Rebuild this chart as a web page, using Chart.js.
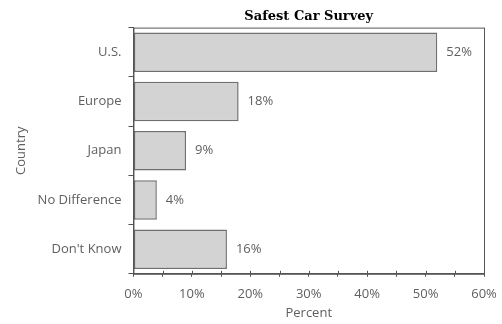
<!DOCTYPE html>
<html>
<head>
<meta charset="utf-8">
<script src="https://cdn.jsdelivr.net/npm/chart.js@4/dist/chart.umd.min.js"></script>
<style>
  html, body { margin: 0; padding: 0; background: #fff; }
  #wrap { width: 502px; height: 324px; }
</style>
</head>
<body>
<div id="wrap"><canvas id="surveyChart" width="502" height="324"></canvas></div>
<script>
// Données du sondage
const countries = ['U.S.', 'Europe', 'Japan', 'No Difference', "Don't Know"];
const percents = [52, 18, 9, 4, 16];
const xMax = 60;
const xStep = 5;

const textGray = '#606060';
const labelFont = { family: 'Open Sans', size: 13 };

// Cadre, petites graduations et étiquettes de valeur
const extrasPlugin = {
    id: 'extras',
    afterDatasetsDraw(chart) {
        const ctx = chart.ctx;
        const area = chart.chartArea;
        const xScale = chart.scales.x;

        ctx.save();
        // cadre autour de la zone du graphique
        ctx.strokeStyle = '#555';
        ctx.lineWidth = 1;
        ctx.strokeRect(area.left + 0.5, area.top + 0.5, area.right - area.left, area.bottom - area.top);

        // graduations vers l'intérieur sur l'axe des x
        xScale.ticks.forEach(t => {
            const px = Math.round(xScale.getPixelForValue(t.value)) + 0.5;
            ctx.beginPath();
            ctx.moveTo(px, area.bottom - 3);
            ctx.lineTo(px, area.bottom);
            ctx.stroke();
        });

        // valeurs à droite des barres
        ctx.fillStyle = textGray;
        ctx.font = labelFont.size + 'px ' + labelFont.family;
        ctx.textAlign = 'left';
        ctx.textBaseline = 'middle';
        const meta = chart.getDatasetMeta(0);
        meta.data.forEach((bar, i) => {
            ctx.fillText(percents[i] + '%', bar.x + 9, bar.y);
        });
        ctx.restore();
    }
};

function initChart() {
    const ctx = document.getElementById('surveyChart').getContext('2d');
    new Chart(ctx, {
        type: 'bar',
        data: {
            labels: countries,
            datasets: [{
                data: percents,
                backgroundColor: '#d3d3d3',
                borderColor: '#707070',
                borderWidth: 1.5,
                borderSkipped: false,
                barPercentage: 0.8,
                categoryPercentage: 1
            }]
        },
        options: {
            indexAxis: 'y',
            responsive: false,
            animation: false,
            layout: { padding: { left: 13, right: 0, top: 4, bottom: 3 } },
            plugins: {
                legend: { display: false },
                tooltip: { enabled: false },
                title: {
                    display: true,
                    text: 'Safest Car Survey',
                    fullSize: false,
                    color: '#000',
                    font: { family: 'DejaVu Serif', size: 13, weight: 'bold' },
                    padding: { top: 5, bottom: 3 }
                }
            },
            scales: {
                x: {
                    min: 0,
                    max: xMax,
                    // marge droite fixe pour l'étiquette "60%"
                    afterFit: scale => { scale.paddingRight = 18; },
                    ticks: {
                        stepSize: xStep,
                        autoSkip: false,
                        maxRotation: 0,
                        color: textGray,
                        font: labelFont,
                        padding: 10,
                        callback: v => (v % 10 === 0 ? v + '%' : '')
                    },
                    grid: { drawOnChartArea: false, drawTicks: true, tickLength: 3, color: '#555' },
                    border: { display: true, color: '#555' },
                    title: {
                        display: true,
                        text: 'Percent',
                        color: textGray,
                        font: labelFont,
                        padding: { top: -7, bottom: 0 }
                    }
                },
                y: {
                    ticks: {
                        color: textGray,
                        font: labelFont,
                        padding: 7
                    },
                    grid: { drawOnChartArea: false, drawTicks: true, tickLength: 5, color: '#555' },
                    border: { display: true, color: '#555' },
                    title: {
                        display: true,
                        text: 'Country',
                        color: textGray,
                        font: labelFont,
                        padding: { top: 0, bottom: 2 }
                    }
                }
            }
        },
        plugins: [extrasPlugin]
    });
}

document.addEventListener('DOMContentLoaded', initChart);
</script>
</body>
</html>
